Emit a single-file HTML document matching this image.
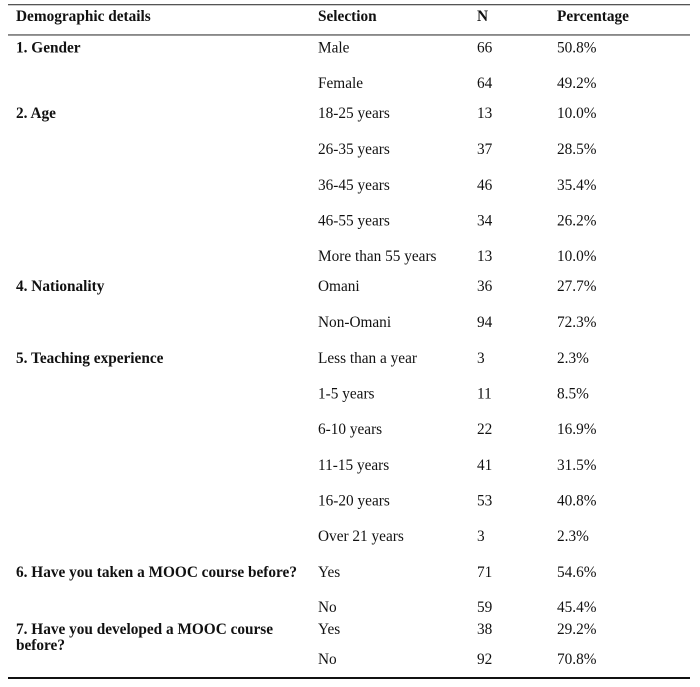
<!DOCTYPE html>
<html>
<head>
<meta charset="utf-8">
<style>
  html, body { margin: 0; padding: 0; background: #ffffff; }
  body { width: 700px; height: 687px; overflow: hidden; }
  svg { display: block; }
  text { font-family: "Liberation Serif", "Times New Roman", serif; font-size: 15.3px; fill: #111; }
  .b { font-weight: bold; }
</style>
</head>
<body>
<svg width="700" height="687" viewBox="0 0 700 687" xmlns="http://www.w3.org/2000/svg">
  <rect x="0" y="0" width="700" height="687" fill="#ffffff"/>
  <!-- rules -->
  <rect x="8" y="4" width="682" height="1.3" fill="#555"/>
  <rect x="8" y="34.3" width="682" height="1.3" fill="#555"/>
  <rect x="8" y="677" width="682" height="2" fill="#111"/>

  <!-- header -->
  <text class="b" x="16" y="21">Demographic details</text>
  <text class="b" x="318" y="21">Selection</text>
  <text class="b" x="477" y="21">N</text>
  <text class="b" x="557" y="21">Percentage</text>

  <!-- Gender -->
  <text class="b" x="16" y="52.5">1. Gender</text>
  <text x="318" y="52.5">Male</text><text x="477" y="52.5">66</text><text x="557" y="52.5">50.8%</text>
  <text x="318" y="88">Female</text><text x="477" y="88">64</text><text x="557" y="88">49.2%</text>

  <!-- Age -->
  <text class="b" x="16" y="118">2. Age</text>
  <text x="318" y="118">18-25 years</text><text x="477" y="118">13</text><text x="557" y="118">10.0%</text>
  <text x="318" y="154">26-35 years</text><text x="477" y="154">37</text><text x="557" y="154">28.5%</text>
  <text x="318" y="190">36-45 years</text><text x="477" y="190">46</text><text x="557" y="190">35.4%</text>
  <text x="318" y="225.5">46-55 years</text><text x="477" y="225.5">34</text><text x="557" y="225.5">26.2%</text>
  <text x="318" y="261">More than 55 years</text><text x="477" y="261">13</text><text x="557" y="261">10.0%</text>

  <!-- Nationality -->
  <text class="b" x="16" y="291">4. Nationality</text>
  <text x="318" y="291">Omani</text><text x="477" y="291">36</text><text x="557" y="291">27.7%</text>
  <text x="318" y="327">Non-Omani</text><text x="477" y="327">94</text><text x="557" y="327">72.3%</text>

  <!-- Teaching experience -->
  <text class="b" x="16" y="363">5. Teaching experience</text>
  <text x="318" y="363">Less than a year</text><text x="477" y="363">3</text><text x="557" y="363">2.3%</text>
  <text x="318" y="398.5">1-5 years</text><text x="477" y="398.5">11</text><text x="557" y="398.5">8.5%</text>
  <text x="318" y="434">6-10 years</text><text x="477" y="434">22</text><text x="557" y="434">16.9%</text>
  <text x="318" y="470">11-15 years</text><text x="477" y="470">41</text><text x="557" y="470">31.5%</text>
  <text x="318" y="505.5">16-20 years</text><text x="477" y="505.5">53</text><text x="557" y="505.5">40.8%</text>
  <text x="318" y="541">Over 21 years</text><text x="477" y="541">3</text><text x="557" y="541">2.3%</text>

  <!-- MOOC taken -->
  <text class="b" x="16" y="577">6. Have you taken a MOOC course before?</text>
  <text x="318" y="577">Yes</text><text x="477" y="577">71</text><text x="557" y="577">54.6%</text>
  <text x="318" y="612">No</text><text x="477" y="612">59</text><text x="557" y="612">45.4%</text>

  <!-- MOOC developed -->
  <text class="b" x="16" y="634">7. Have you developed a MOOC course</text>
  <text class="b" x="16" y="650">before?</text>
  <text x="318" y="634">Yes</text><text x="477" y="634">38</text><text x="557" y="634">29.2%</text>
  <text x="318" y="664">No</text><text x="477" y="664">92</text><text x="557" y="664">70.8%</text>
</svg>
</body>
</html>
